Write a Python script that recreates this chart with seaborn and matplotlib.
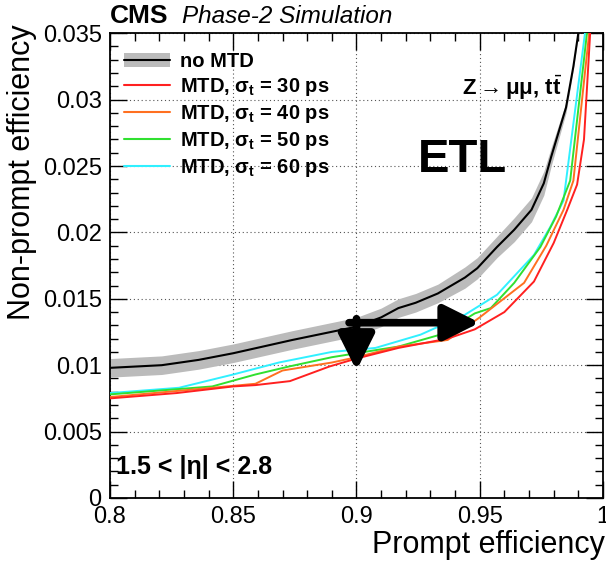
import matplotlib
matplotlib.use("Agg")
import matplotlib.pyplot as plt
from matplotlib.patches import Patch
from matplotlib.lines import Line2D
from matplotlib.ticker import MultipleLocator
import seaborn as sns
import numpy as np

# values
nomtd_x = [0.800, 0.821, 0.836, 0.850, 0.874, 0.900, 0.910, 0.917, 0.924, 0.933, 0.944,
           0.949, 0.957, 0.964, 0.971, 0.976, 0.979, 0.985, 0.988, 0.990]
nomtd_y = [0.0098, 0.0100, 0.0104, 0.0109, 0.0119, 0.0129, 0.0136, 0.0143, 0.0147, 0.0154, 0.0166,
           0.0173, 0.0189, 0.0202, 0.0217, 0.0237, 0.0257, 0.0294, 0.0325, 0.0350]
nomtd_err = [0.0007, 0.0007, 0.0007, 0.0007, 0.0007, 0.0007, 0.0007, 0.0007, 0.0007, 0.0007, 0.0008,
             0.0008, 0.0008, 0.0009, 0.0009, 0.0009, 0.0007, 0.0004, 0.0002, 0.0001]

mtd30_x = [0.800, 0.827, 0.850, 0.859, 0.873, 0.889, 0.900, 0.917, 0.937, 0.948, 0.960,
           0.972, 0.980, 0.9855, 0.9895, 0.9923, 0.9948]
mtd30_y = [0.0075, 0.0079, 0.0084, 0.0085, 0.0088, 0.0099, 0.0105, 0.0113, 0.0120, 0.0127, 0.0140,
           0.0163, 0.0192, 0.0217, 0.0236, 0.0270, 0.0350]

mtd40_x = [0.800, 0.8415, 0.859, 0.870, 0.890, 0.900, 0.917, 0.937, 0.950, 0.968, 0.977,
           0.984, 0.988, 0.9944]
mtd40_y = [0.0076, 0.0083, 0.0086, 0.0096, 0.0102, 0.0106, 0.0114, 0.0119, 0.0136, 0.0162, 0.0190,
           0.0217, 0.0239, 0.0350]

mtd50_x = [0.800, 0.8415, 0.859, 0.8726, 0.890, 0.900, 0.910, 0.917, 0.934, 0.948, 0.9545,
           0.964, 0.9746, 0.981, 0.9867, 0.9935]
mtd50_y = [0.0078, 0.0084, 0.0093, 0.0099, 0.0106, 0.0109, 0.0112, 0.0114, 0.0123, 0.0139, 0.0143,
           0.0162, 0.0189, 0.0212, 0.0239, 0.0350]

mtd60_x = [0.800, 0.828, 0.850, 0.8685, 0.890, 0.9077, 0.926, 0.944, 0.957, 0.972, 0.9786,
           0.984, 0.9927]
mtd60_y = [0.0079, 0.0083, 0.0093, 0.0102, 0.0110, 0.0113, 0.0123, 0.0138, 0.0153, 0.0183, 0.0204,
           0.0224, 0.0350]

mtd_labels = ["30", "40", "50", "60"]
mtd_colors = ["#ff2020", "#ff7020", "#30e030", "#30f0ff"]

# working point arrows
wp_prompt = 0.90
wp_prompt_mtd = 0.95
wp_nonprompt = 0.0132
wp_nonprompt_mtd = 0.0096

sns.set_style("ticks")
plt.rcParams["font.family"] = ["Liberation Sans", "DejaVu Sans"]
plt.rcParams["text.color"] = "black"
plt.rcParams["axes.labelcolor"] = "black"
plt.rcParams["mathtext.fontset"] = "custom"
plt.rcParams["mathtext.rm"] = "Liberation Sans"
plt.rcParams["mathtext.it"] = "Liberation Sans:italic"
plt.rcParams["mathtext.bf"] = "Liberation Sans:bold"

fig = plt.figure(figsize=(6.06, 5.63), dpi=100)
ax = fig.add_axes([0.1815, 0.1155, 0.8135, 0.8255])

# no MTD band + line
ax.fill_between(nomtd_x, np.array(nomtd_y) - np.array(nomtd_err),
                np.array(nomtd_y) + np.array(nomtd_err), color="#bbbbbb", lw=0, zorder=2)
sns.lineplot(x=nomtd_x, y=nomtd_y, color="black", lw=1.5, sort=False, ax=ax, zorder=3)

series = [(mtd30_x, mtd30_y), (mtd40_x, mtd40_y), (mtd50_x, mtd50_y), (mtd60_x, mtd60_y)]
for (xs, ys), c in zip(series[::-1], mtd_colors[::-1]):
    sns.lineplot(x=xs, y=ys, color=c, lw=1.4, sort=False, ax=ax, zorder=3)

# arrows
arrow_kw = dict(arrowstyle="-|>,head_length=0.4,head_width=0.2", color="black",
                lw=5.5, mutation_scale=54, shrinkA=0, shrinkB=0)
ax.annotate("", xy=(wp_prompt_mtd, wp_nonprompt), xytext=(wp_prompt - 0.003, wp_nonprompt),
            arrowprops=arrow_kw, zorder=5)
ax.annotate("", xy=(wp_prompt, wp_nonprompt_mtd), xytext=(wp_prompt, wp_nonprompt + 0.0003),
            arrowprops=arrow_kw, zorder=5)

ax.set_xlim(0.8, 1.0)
ax.set_ylim(0, 0.035)
ax.xaxis.set_minor_locator(MultipleLocator(0.01))
ax.yaxis.set_minor_locator(MultipleLocator(0.001))
ax.set_xticks([0.8, 0.85, 0.9, 0.95, 1.0])
ax.set_xticklabels(["0.8", "0.85", "0.9", "0.95", "1"])
ax.set_yticks([0, 0.005, 0.01, 0.015, 0.02, 0.025, 0.03, 0.035])
ax.set_yticklabels(["0", "0.005", "0.01", "0.015", "0.02", "0.025", "0.03", "0.035"])
ax.tick_params(which="both", direction="in", top=True, right=True, labelsize=17,
               colors="black", labelcolor="black")
ax.tick_params(which="major", length=12, width=1.0, pad=6)
ax.tick_params(which="minor", length=6, width=1.0)
ax.grid(True, which="major", ls=(0, (1, 2.5)), color="#555555", lw=0.8)
for s in ax.spines.values():
    s.set_linewidth(1.3)
    s.set_color("black")

ax.set_xlabel("Prompt efficiency", fontsize=22, loc="right", color="black")
ax.xaxis.set_label_coords(1.004, -0.068)
ax.set_ylabel("Non-prompt efficiency", fontsize=22, loc="top", color="black")
ax.yaxis.set_label_coords(-0.148, 1.02)

# legend
handles = [(Patch(facecolor="#bbbbbb", edgecolor="none"), Line2D([], [], color="black", lw=1.5))]
labels = ["no MTD"]
for lab, c in zip(mtd_labels, mtd_colors):
    handles.append(Line2D([], [], color=c, lw=1.5))
    labels.append("MTD, σ$_{\\mathregular{t}}$ = " + lab + " ps")
leg = ax.legend(handles, labels, loc="upper left", bbox_to_anchor=(0.0, 0.99), frameon=False,
                prop={"weight": "bold", "size": 14.5}, handlelength=2.3, handletextpad=0.5,
                labelspacing=0.25, borderaxespad=0.3, labelcolor="black")

# labels in the plot
ax.text(0.0, 1.012, "CMS", transform=ax.transAxes, fontsize=19, fontweight="bold",
        va="bottom", ha="left")
ax.text(0.146, 1.012, "Phase-2 Simulation", transform=ax.transAxes, fontsize=17.5,
        fontstyle="italic", va="bottom", ha="left")
ax.text(0.917, 0.882, "Z$\\rightarrow$μμ, t$\\bar{\\mathregular{t}}$", transform=ax.transAxes,
        fontsize=16, fontweight="bold", va="center", ha="right")
ax.text(0.625, 0.727, "ETL", transform=ax.transAxes, fontsize=34, fontweight="bold",
        family=["Liberation Sans Narrow", "Liberation Sans"], va="center", ha="left")
ax.text(0.012, 0.067, "1.5 < |η| < 2.8", transform=ax.transAxes, fontsize=18,
        fontweight="bold", va="center", ha="left")

fig.savefig("out.png", dpi=100)
